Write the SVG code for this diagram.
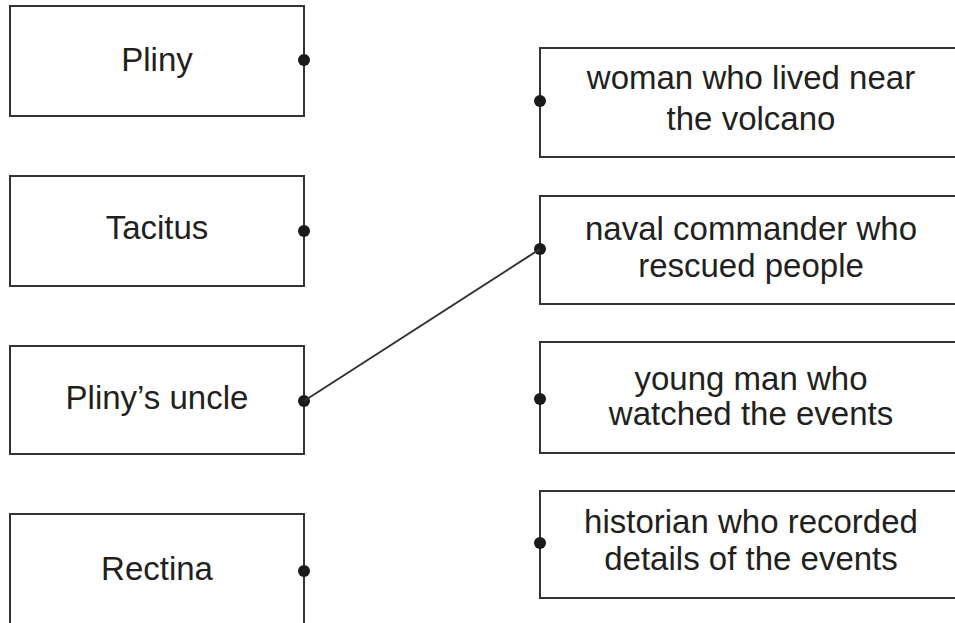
<svg xmlns="http://www.w3.org/2000/svg" width="955" height="623" viewBox="0 0 955 623">
<style>
.box{fill:#fff;stroke:#333;stroke-width:2}
.t{font-family:"Liberation Sans",Arial,sans-serif;font-size:33px;fill:#231f20;text-anchor:middle}
.dot{fill:#1a1a1a}
.link{stroke:#333;stroke-width:2;fill:none}
</style>
<rect width="955" height="623" fill="#fff"/>
<g id="pliny"><rect class="box" x="10" y="6" width="294" height="110"/><text class="t" x="157" y="71">Pliny</text><circle class="dot" cx="304" cy="60" r="6"/></g>
<g id="tacitus"><rect class="box" x="10" y="176" width="294" height="110"/><text class="t" x="157" y="239">Tacitus</text><circle class="dot" cx="304" cy="231" r="6"/></g>
<g id="plinys-uncle"><rect class="box" x="10" y="346" width="294" height="108"/><text class="t" x="157" y="409">Pliny’s uncle</text><circle class="dot" cx="304" cy="401" r="6"/></g>
<g id="rectina"><rect class="box" x="10" y="514" width="294" height="130"/><text class="t" x="157" y="580">Rectina</text><circle class="dot" cx="304" cy="571" r="6"/></g>
<g id="woman"><rect class="box" x="540" y="48" width="430" height="109"/><text class="t" x="751" y="89">woman who lived near</text><text class="t" x="751" y="130">the volcano</text><circle class="dot" cx="540" cy="101" r="6"/></g>
<g id="naval"><rect class="box" x="540" y="196" width="430" height="108"/><text class="t" x="751" y="240">naval commander who</text><text class="t" x="751" y="277">rescued people</text><circle class="dot" cx="540" cy="249" r="6"/></g>
<g id="young"><rect class="box" x="540" y="342" width="430" height="111"/><text class="t" x="751" y="390">young man who</text><text class="t" x="751" y="425">watched the events</text><circle class="dot" cx="540" cy="399" r="6"/></g>
<g id="historian"><rect class="box" x="540" y="491" width="430" height="107"/><text class="t" x="751" y="533">historian who recorded</text><text class="t" x="751" y="570">details of the events</text><circle class="dot" cx="540" cy="543" r="6"/></g>
<g id="connectors"><line class="link" x1="304" y1="401" x2="540" y2="249"/></g>
</svg>
